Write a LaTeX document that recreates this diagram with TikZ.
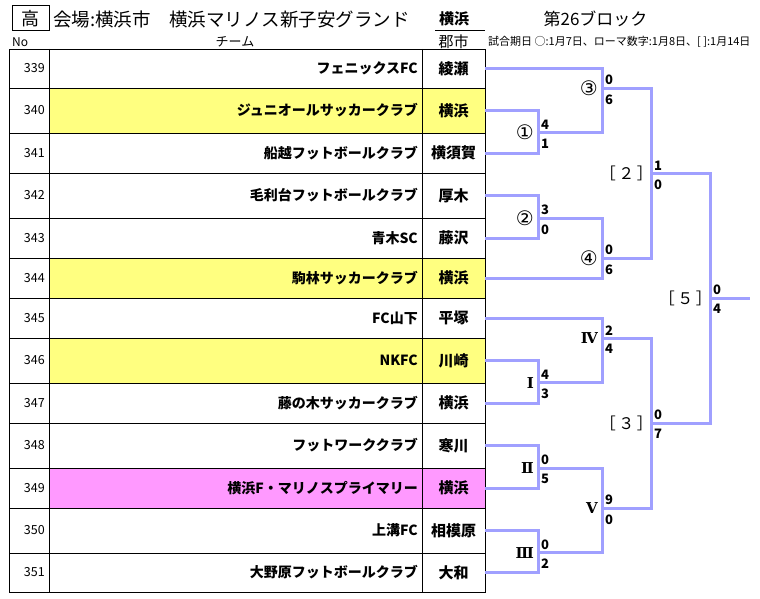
\documentclass[tikz,border=0pt]{standalone}
\usepackage{fontspec}
\setmainfont{Noto Sans CJK JP}
\newfontfamily\romfont{DejaVu Serif}
\newfontfamily\circfont{DejaVu Sans}
\usetikzlibrary{positioning}
\definecolor{rowY}{RGB}{255,255,128}
\definecolor{rowP}{RGB}{255,153,255}
\definecolor{bktblue}{RGB}{160,160,255}
\newcommand{\rnum}[1]{{\romfont\bfseries\fontsize{15}{16}\selectfont #1}}
\newcommand{\cnum}[1]{{\circfont\fontsize{20}{21}\selectfont #1}}
\newcommand{\bnum}[1]{{\fontsize{16}{17}\selectfont ［\kern2.5pt#1\kern2.5pt］\kern-6pt}}

\begin{document}
\begin{tikzpicture}[x = 1pt, y = -1pt,
  cell/.style = {draw, line width = 0.8pt},
  numtxt/.style = {anchor = east, inner sep = 0pt, font = \fontsize{12.5}{13}\selectfont},
  teamtxt/.style = {anchor = east, inner sep = 0pt, font = \bfseries\fontsize{14}{15}\selectfont},
  citytxt/.style = {inner sep = 0pt, font = \bfseries\fontsize{15}{16}\selectfont},
  hdr/.style = {inner sep = 0pt, font = \fontsize{13}{14}\selectfont},
  bkt/.style = {draw = bktblue, line width = 3pt},
  rnd/.style = {inner sep = 0pt},
  score/.style = {inner sep = 0pt, font = \bfseries\fontsize{13}{14}\selectfont}]
\useasboundingbox (0,0) rectangle (760,599);
\fill[white] (0,0) rectangle (760,599);

\node[draw, line width = 1pt, minimum width = 37pt, minimum height = 25pt, inner sep = 0pt,
  font = \fontsize{18}{19}\selectfont] (grade) at (30.5,18.5) {高};
\node[anchor = west, inner sep = 0pt, font = \fontsize{18.5}{19}\selectfont] (venue) at (53,19)
  {会場:横浜市　横浜マリノス新子安グランド};
\node[inner sep = 0pt, font = \bfseries\fontsize{15}{16}\selectfont] (area) at (454,19) {横浜};
\coordinate (ulA) at (435,30.5);
\coordinate (ulB) at (485,30.5);
\draw (ulA) -- (ulB);
\node[inner sep = 0pt, font = \fontsize{17}{18}\selectfont] (block) at (595.5,19) {第26ブロック};
\node[hdr, anchor = west, font = \fontsize{12}{13}\selectfont] (hno) at (12,42) {No};
\node[hdr] (hteam) at (235,42) {チーム};
\node[hdr, font = \fontsize{15}{16}\selectfont] (hcity) at (453.5,42) {郡市};
\node[hdr, anchor = west, font = \fontsize{11}{12}\selectfont] (dates) at (488,42)
  {試合期日 ○:1月7日、ローマ数字:1月8日、[ ]:1月14日};

\foreach \n/\ya/\yb/\team/\city/\rowfill in {
339/49/88/フェニックスFC/綾瀬/white,
340/88/133/ジュニオールサッカークラブ/横浜/rowY,
341/133/173/船越フットボールクラブ/横須賀/white,
342/173/218/毛利台フットボールクラブ/厚木/white,
343/218/258/青木SC/藤沢/white,
344/258/298/駒林サッカークラブ/横浜/rowY,
345/298/338/FC山下/平塚/white,
346/338/383/NKFC/川崎/rowY,
347/383/423/藤の木サッカークラブ/横浜/white,
348/423/468/フットワーククラブ/寒川/white,
349/468/508/横浜F・マリノスプライマリー/横浜/rowP,
350/508/553/上溝FC/相模原/white,
351/553/592/大野原フットボールクラブ/大和/white}{
\pgfmathsetmacro{\rowmid}{(\ya+\yb)/2}
\fill[\rowfill] (49,\ya) rectangle (485,\yb);
\draw[cell] (9,\ya) rectangle (485,\yb);
\draw[cell] (49,\ya) -- (49,\yb) (422,\ya) -- (422,\yb);
\node[numtxt] (no\n) at (45,\rowmid) {\n};
\node[teamtxt] (tm\n) at (418,\rowmid) {\team};
\node[citytxt] (ct\n) at (453.5,\rowmid) {\city};
\coordinate (e\n) at (485,\rowmid);
}

\foreach \m/\mx/\my/\lab/\su/\sd in {
m1/538/132.7/\cnum{①}/4/1,
m2/538/218.3/\cnum{②}/3/0,
m3/602/88.3/\cnum{③}/0/6,
m4/602/258.3/\cnum{④}/0/6,
m5/651/173.3/\bnum{２}/1/0,
mI/538/382.7/\rnum{Ⅰ}/4/3,
mII/538/468.3/\rnum{Ⅱ}/0/5,
mIII/538/552.7/\rnum{Ⅲ}/0/2,
mIV/602/338.3/\rnum{Ⅳ}/2/4,
mV/602/508.3/\rnum{Ⅴ}/9/0,
m6/651/423.3/\bnum{３}/0/7,
m7/710/298.3/\bnum{５}/0/4}{
\coordinate (\m) at (\mx,\my);
\node[rnd, left = 4pt of \m] (lb\m) {\lab};
\node[score, above right = 3pt and 3pt of \m] (su\m) {\su};
\node[score, below right = 6pt and 3pt of \m] (sd\m) {\sd};
}

\draw[bkt] (e340) -| (m1) |- (e341);
\draw[bkt] (e342) -| (m2) |- (e343);
\draw[bkt] (e339) -| (m3) |- (m1);
\draw[bkt] (m2) -| (m4) |- (e344);
\draw[bkt] (m3) -| (m5) |- (m4);
\draw[bkt] (e346) -| (mI) |- (e347);
\draw[bkt] (e348) -| (mII) |- (e349);
\draw[bkt] (e350) -| (mIII) |- (e351);
\draw[bkt] (e345) -| (mIV) |- (mI);
\draw[bkt] (mII) -| (mV) |- (mIII);
\draw[bkt] (mIV) -| (m6) |- (mV);
\draw[bkt] (m5) -| (m7) |- (m6);
\coordinate (fin) at (750,298.3);
\draw[bkt] (m7) -- (fin);
\end{tikzpicture}
\end{document}
